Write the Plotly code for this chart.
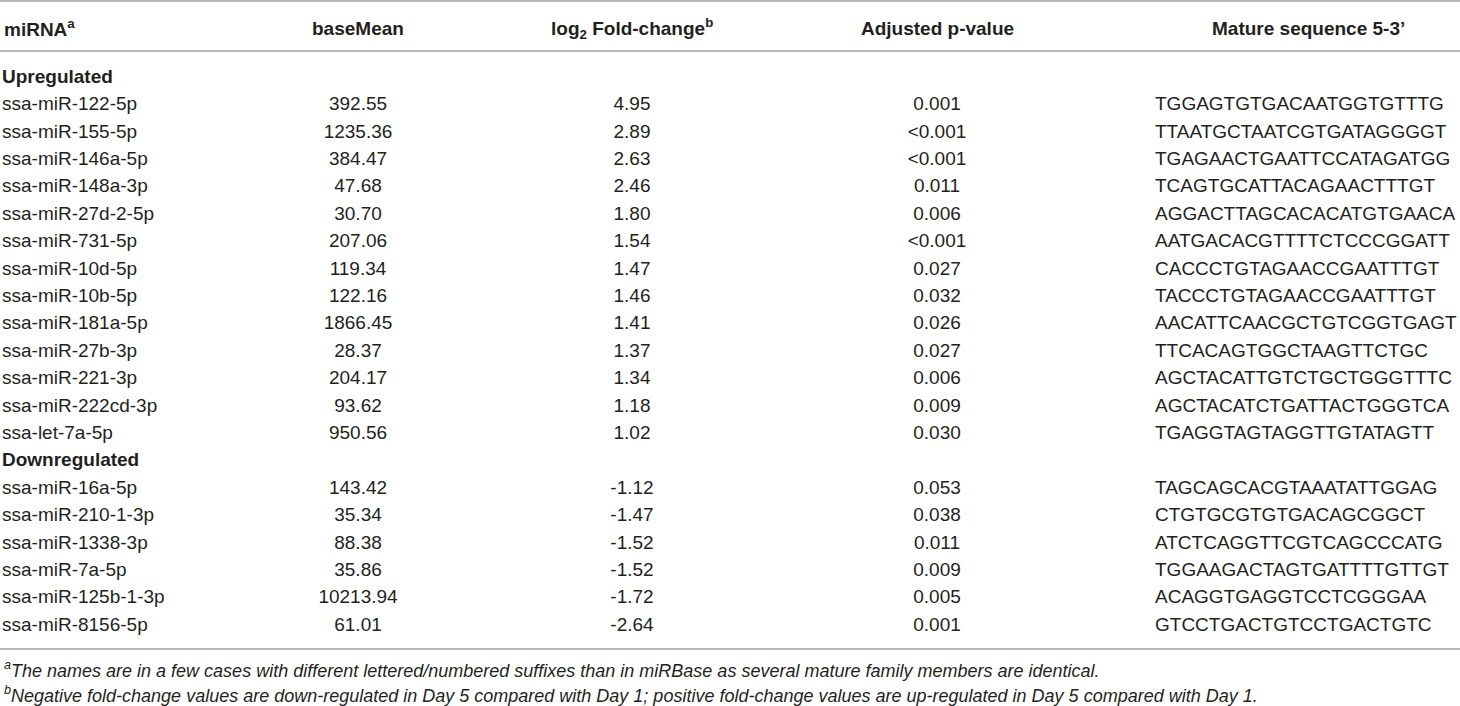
import plotly.graph_objects as go

# ---------------- data ----------------
headers = ["miRNA<sup>a</sup>", "baseMean", "log<sub>2</sub> Fold-change<sup>b</sup>",
           "Adjusted p-value", "Mature sequence 5-3’"]
group_labels = ["Upregulated", "Downregulated"]

up_mirna = ["ssa-miR-122-5p", "ssa-miR-155-5p", "ssa-miR-146a-5p", "ssa-miR-148a-3p",
            "ssa-miR-27d-2-5p", "ssa-miR-731-5p", "ssa-miR-10d-5p", "ssa-miR-10b-5p",
            "ssa-miR-181a-5p", "ssa-miR-27b-3p", "ssa-miR-221-3p", "ssa-miR-222cd-3p",
            "ssa-let-7a-5p"]
up_basemean = [392.55, 1235.36, 384.47, 47.68, 30.70, 207.06, 119.34, 122.16,
               1866.45, 28.37, 204.17, 93.62, 950.56]
up_log2fc = [4.95, 2.89, 2.63, 2.46, 1.80, 1.54, 1.47, 1.46, 1.41, 1.37, 1.34, 1.18, 1.02]
up_padj = ["0.001", "<0.001", "<0.001", "0.011", "0.006", "<0.001", "0.027", "0.032",
           "0.026", "0.027", "0.006", "0.009", "0.030"]
up_seq = ["TGGAGTGTGACAATGGTGTTTG", "TTAATGCTAATCGTGATAGGGGT", "TGAGAACTGAATTCCATAGATGG",
          "TCAGTGCATTACAGAACTTTGT", "AGGACTTAGCACACATGTGAACA", "AATGACACGTTTTCTCCCGGATT",
          "CACCCTGTAGAACCGAATTTGT", "TACCCTGTAGAACCGAATTTGT", "AACATTCAACGCTGTCGGTGAGT",
          "TTCACAGTGGCTAAGTTCTGC", "AGCTACATTGTCTGCTGGGTTTC", "AGCTACATCTGATTACTGGGTCA",
          "TGAGGTAGTAGGTTGTATAGTT"]

down_mirna = ["ssa-miR-16a-5p", "ssa-miR-210-1-3p", "ssa-miR-1338-3p", "ssa-miR-7a-5p",
              "ssa-miR-125b-1-3p", "ssa-miR-8156-5p"]
down_basemean = [143.42, 35.34, 88.38, 35.86, 10213.94, 61.01]
down_log2fc = [-1.12, -1.47, -1.52, -1.52, -1.72, -2.64]
down_padj = ["0.053", "0.038", "0.011", "0.009", "0.005", "0.001"]
down_seq = ["TAGCAGCACGTAAATATTGGAG", "CTGTGCGTGTGACAGCGGCT", "ATCTCAGGTTCGTCAGCCCATG",
            "TGGAAGACTAGTGATTTTGTTGT", "ACAGGTGAGGTCCTCGGGAA", "GTCCTGACTGTCCTGACTGTC"]

footnotes = [
    "<sup>a</sup>The names are in a few cases with different lettered/numbered suffixes than in miRBase as several mature family members are identical.",
    "<sup>b</sup>Negative fold-change values are down-regulated in Day 5 compared with Day 1; positive fold-change values are up-regulated in Day 5 compared with Day 1.",
]

# ---------------- layout constants ----------------
W, H = 1460, 706
FONT = "Liberation Sans, Arial, Helvetica, sans-serif"
TXT = "#231f20"
RULE = "#a3a3a3"
FS = 19
ROW_H = 27.4          # px per body row
ROW0_PX = 78.0        # pixel centre of first body row
HEADER_PX = 28
RULES_PX = [1, 51, 649]
FOOT_PX = [669, 694]

col_x = [2, 358, 632, 937, 1155]
col_pos = ["middle right", "middle center", "middle center", "middle center", "middle right"]
head_x = [2, 358, 632, 937, 1308]
head_anchor = ["left", "center", "center", "center", "center"]


def to_row(px):
    return (px - ROW0_PX) / ROW_H


def esc(s):
    return s.replace("<", "&lt;")


# ---------------- build rows ----------------
group_rows = []
data_rows = []
cols = [[], [], [], [], []]
r = 0
for label, mir, bm, fc, pj, sq in [
    (group_labels[0], up_mirna, up_basemean, up_log2fc, up_padj, up_seq),
    (group_labels[1], down_mirna, down_basemean, down_log2fc, down_padj, down_seq),
]:
    group_rows.append((r, label))
    r += 1
    for i in range(len(mir)):
        data_rows.append(r)
        cols[0].append(mir[i])
        cols[1].append("%.2f" % bm[i])
        cols[2].append("%.2f" % fc[i])
        cols[3].append(esc(pj[i]))
        cols[4].append(sq[i])
        r += 1

fig = go.Figure()
# group label rows
fig.add_trace(go.Scatter(
    x=[col_x[0]] * len(group_rows), y=[g[0] for g in group_rows], mode="text",
    text=["<b>%s</b>" % g[1] for g in group_rows], textposition="middle right",
    textfont=dict(family=FONT, size=FS, color=TXT),
    hoverinfo="skip", showlegend=False, cliponaxis=False,
))
for c in range(5):
    fig.add_trace(go.Scatter(
        x=[col_x[c]] * len(data_rows), y=data_rows, mode="text", text=cols[c],
        textposition=col_pos[c], textfont=dict(family=FONT, size=FS, color=TXT),
        hoverinfo="skip", showlegend=False, cliponaxis=False,
    ))

annotations = []
for c, h in enumerate(headers):
    annotations.append(dict(
        x=head_x[c], y=to_row(HEADER_PX), xref="x", yref="y", text="<b>%s</b>" % h,
        xanchor=head_anchor[c], yanchor="middle", showarrow=False,
        font=dict(family=FONT, size=FS, color=TXT)))
for i, f in enumerate(footnotes):
    annotations.append(dict(
        x=2, y=to_row(FOOT_PX[i]), xref="x", yref="y", text="<i>%s</i>" % f,
        xanchor="left", yanchor="middle", showarrow=False,
        font=dict(family=FONT, size=18, color=TXT)))

shapes = [dict(type="line", xref="paper", yref="y", x0=0, x1=1,
               y0=to_row(p), y1=to_row(p), line=dict(color=RULE, width=1.6))
          for p in RULES_PX]

fig.update_layout(
    width=W, height=H, margin=dict(l=0, r=0, t=0, b=0),
    paper_bgcolor="white", plot_bgcolor="white",
    xaxis=dict(range=[0, W], visible=False, fixedrange=True),
    yaxis=dict(range=[to_row(H), to_row(0)], visible=False, fixedrange=True),
    annotations=annotations, shapes=shapes,
)

fig.write_html("out.html", config={"displayModeBar": False},
               post_script="document.body.style.margin='0px';document.body.style.overflow='hidden';")
